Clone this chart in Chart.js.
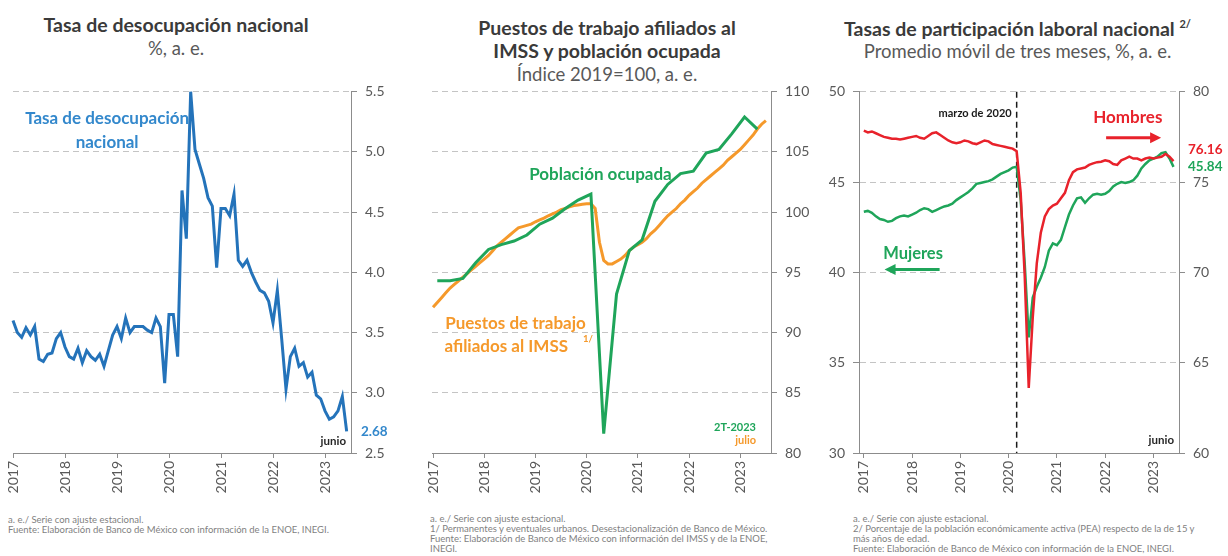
<!DOCTYPE html>
<html lang="es">
<head>
<meta charset="UTF-8">
<title>Mercado laboral</title>
<style>
    body {
        margin: 0;
        background: #fff;
        font-family: Lato, sans-serif;
    }
    #hoja {
        position: relative;
        width: 1228px;
        height: 556px;
        overflow: hidden;
    }
    .titulo {
        position: absolute;
        text-align: center;
        color: #3a3a3a;
        font-weight: bold;
        font-size: 19.5px;
        line-height: 23px;
        white-space: nowrap;
    }
    .titulo .sub {
        font-weight: normal;
        color: #595959;
        font-size: 18.5px;
    }
    .titulo sup {
        font-size: 11px;
    }
    canvas {
        position: absolute;
        top: 80px;
    }
    .nota {
        position: absolute;
        font-size: 9.5px;
        line-height: 10px;
        color: #7f7f7f;
        white-space: nowrap;
    }
</style>
</head>
<body>
<div id="hoja">
    <div class="titulo" style="left:0; width:352px; top:13px;">
        Tasa de desocupación nacional<br><span class="sub">%, a. e.</span>
    </div>
    <div class="titulo" style="left:410px; width:394px; top:16px;">
        Puestos de trabajo afiliados al<br>IMSS y población ocupada<br><span class="sub">Índice 2019=100, a. e.</span>
    </div>
    <div class="titulo" style="left:820px; width:395px; top:13px; line-height:22px;">
        Tasas de participación laboral nacional <sup>2/</sup><br><span class="sub">Promedio móvil de tres meses, %, a. e.</span>
    </div>

    <canvas id="grafDesocupacion" width="410" height="420" style="left:0;"></canvas>
    <canvas id="grafEmpleo" width="410" height="420" style="left:410px;"></canvas>
    <canvas id="grafParticipacion" width="408" height="420" style="left:820px;"></canvas>

    <div class="nota" style="left:8px; top:515px;">
        a. e./ Serie con ajuste estacional.<br>
        Fuente: Elaboración de Banco de México con información de la ENOE, INEGI.
    </div>
    <div class="nota" style="left:430px; top:514px;">
        a. e./ Serie con ajuste estacional.<br>
        1/ Permanentes y eventuales urbanos. Desestacionalización de Banco de México.<br>
        Fuente: Elaboración de Banco de México con información del IMSS y de la ENOE,<br>
        INEGI.
    </div>
    <div class="nota" style="left:853px; top:514px;">
        a. e./ Serie con ajuste estacional.<br>
        2/ Porcentaje de la población económicamente activa (PEA) respecto de la de 15 y<br>
        más años de edad.<br>
        Fuente: Elaboración de Banco de México con información de la ENOE, INEGI.
    </div>
</div>

<script src="https://cdn.jsdelivr.net/npm/chart.js"></script>
<script>
    // ---- datos ----
    const anios = [2017, 2018, 2019, 2020, 2021, 2022, 2023];

    // tasa de desocupación, mensual ene-2017 a jun-2023
    const desocupacion = [
        3.60, 3.50, 3.46, 3.54, 3.48, 3.55, 3.28, 3.26, 3.32, 3.33, 3.45, 3.50,
        3.38, 3.30, 3.28, 3.37, 3.25, 3.35, 3.30, 3.27, 3.32, 3.22, 3.35, 3.48,
        3.55, 3.45, 3.62, 3.50, 3.55, 3.55, 3.55, 3.52, 3.50, 3.62, 3.55, 3.08,
        3.65, 3.65, 3.30, 4.68, 4.28, 5.50, 5.02, 4.90, 4.78, 4.62, 4.55, 4.04,
        4.53, 4.53, 4.47, 4.65, 4.10, 4.05, 4.10, 4.00, 3.92, 3.85, 3.83, 3.76,
        3.58, 3.85, 3.45, 3.03, 3.30, 3.37, 3.22, 3.25, 3.13, 3.17, 2.98, 2.95,
        2.85, 2.78, 2.80, 2.85, 2.97, 2.68
    ];
    const ticksDesocupacion = [2.5, 3.0, 3.5, 4.0, 4.5, 5.0, 5.5];

    // puestos de trabajo IMSS, mensual ene-2017 a jul-2023
    const puestosImss = [
        92.1, 92.5, 92.9, 93.3, 93.7, 94.0, 94.3, 94.6, 94.9, 95.2, 95.5, 95.8,
        96.1, 96.4, 96.8, 97.2, 97.5, 97.8, 98.1, 98.4, 98.7, 98.8, 98.9, 99.0,
        99.2, 99.35, 99.5, 99.7, 99.85, 100.0, 100.2, 100.3, 100.45, 100.55, 100.6, 100.65,
        100.7, 100.7, 100.3, 97.5, 96.0, 95.7, 95.7, 95.9, 96.1, 96.4, 96.8, 97.1,
        97.3, 97.5, 97.8, 98.2, 98.5, 98.9, 99.3, 99.7, 100.0, 100.3, 100.7, 101.0,
        101.4, 101.7, 102.0, 102.4, 102.7, 103.0, 103.3, 103.6, 103.9, 104.3, 104.6, 104.9,
        105.2, 105.6, 106.0, 106.4, 106.9, 107.3, 107.6
    ];
    // población ocupada, trimestral 1T-2017 a 2T-2023
    const poblacionOcupada = [
        94.3, 94.3, 94.5, 95.8, 96.9, 97.3, 97.6, 98.1, 99.0, 99.5, 100.3, 101.0,
        101.5, 81.6, 93.2, 96.8, 97.7, 100.9, 102.3, 103.2, 103.4, 104.9, 105.2, 106.5,
        107.9, 106.9
    ];
    const ticksEmpleo = [80, 85, 90, 95, 100, 105, 110];

    // participación laboral, mensual ene-2017 a jun-2023
    const hombres = [
        77.85, 77.75, 77.8, 77.7, 77.6, 77.5, 77.45, 77.4, 77.4, 77.35, 77.4, 77.45,
        77.5, 77.55, 77.45, 77.4, 77.55, 77.7, 77.75, 77.6, 77.45, 77.3, 77.2, 77.15,
        77.2, 77.3, 77.25, 77.15, 77.1, 77.2, 77.3, 77.25, 77.1, 77.05, 77.0, 76.95,
        76.9, 76.85, 76.7, 74.4, 69.8, 63.6, 67.5, 70.5, 72.2, 73.1, 73.5, 73.7,
        73.8, 74.1, 74.4, 75.1, 75.55, 75.7, 75.75, 75.8, 75.95, 76.03, 76.1, 76.12,
        76.2, 76.15, 76.0, 75.95, 76.2, 76.3, 76.4, 76.3, 76.3, 76.2, 76.3, 76.35,
        76.3, 76.35, 76.4, 76.55, 76.4, 76.16
    ];
    const mujeres = [
        43.35, 43.4, 43.3, 43.1, 42.95, 42.9, 42.8, 42.85, 43.0, 43.1, 43.15, 43.1,
        43.2, 43.3, 43.45, 43.55, 43.5, 43.35, 43.45, 43.55, 43.65, 43.7, 43.8, 44.0,
        44.15, 44.3, 44.45, 44.65, 44.9, 44.95, 45.0, 45.05, 45.15, 45.3, 45.45, 45.55,
        45.65, 45.8, 45.85, 44.0, 40.5, 36.4, 38.6, 39.2, 39.7, 40.3, 41.2, 41.6,
        41.5, 41.8, 42.5, 43.2, 43.7, 44.1, 44.15, 43.85, 44.1, 44.3, 44.35, 44.3,
        44.35, 44.5, 44.75, 44.9, 45.0, 44.95, 45.0, 45.1, 45.35, 45.75, 46.0, 46.2,
        46.3, 46.4, 46.6, 46.65, 46.3, 45.84
    ];
    const ticksMujeres = [30, 35, 40, 45, 50];
    const ticksHombres = [60, 65, 70, 75, 80];
    const marzo2020 = 2020 + 2 / 12;

    // ---- estilos ----
    const azul = '#2473ba';
    const azulTexto = '#3388cc';
    const verde = '#1fa55a';
    const naranja = '#f5992b';
    const rojo = '#e8222b';
    const grisEje = '#8c8c8c';
    const grisRejilla = '#c4c4c4';
    const grisTexto = '#595959';
    const fuenteTicks = { family: 'Lato', size: 14 };

    const mensual = (serie) => serie.map((v, i) => ({ x: anios[0] + i / 12, y: v }));
    const trimestral = (serie) => serie.map((v, i) => ({ x: anios[0] + (3 * i + 1) / 12, y: v }));

    function ejeX(min, max) {
        return {
            type: 'linear',
            min: min,
            max: max,
            afterBuildTicks: s => { s.ticks = anios.map(v => ({ value: v })); },
            afterFit: s => { s.height = 47; },
            ticks: {
                autoSkip: false, maxRotation: 90, minRotation: 90, padding: 3,
                color: grisTexto, font: fuenteTicks, callback: v => String(v)
            },
            grid: { drawOnChartArea: false, color: grisEje, tickLength: 5 },
            border: { color: grisEje }
        };
    }

    function ejeY(posicion, valores, ancho, rejilla, decimales) {
        return {
            position: posicion,
            min: valores[0],
            max: valores[valores.length - 1],
            afterBuildTicks: s => { s.ticks = valores.map(v => ({ value: v })); },
            // ancho fijo y sin reservar espacio extra arriba/abajo para las etiquetas
            afterFit: s => { s.width = ancho; s.paddingTop = 0; s.paddingBottom = 0; },
            ticks: { color: grisTexto, font: fuenteTicks, padding: 8, callback: v => v.toFixed(decimales) },
            grid: { drawOnChartArea: rejilla, color: grisRejilla, tickColor: grisEje, tickLength: 6 },
            border: { color: grisEje, dash: [6, 4] }
        };
    }

    function linea(datos, color, ancho, eje) {
        return {
            data: datos, borderColor: color, borderWidth: ancho,
            pointRadius: 0, tension: 0, fill: false, yAxisID: eje || 'y', clip: false
        };
    }

    function escribir(ctx, texto, x, y, fuente, color, alineacion) {
        ctx.font = fuente;
        ctx.fillStyle = color;
        ctx.textAlign = alineacion;
        ctx.textBaseline = 'middle';
        ctx.fillText(texto, x, y);
    }

    function flecha(ctx, x1, x2, y, color) {
        const dir = Math.sign(x2 - x1);
        ctx.strokeStyle = color;
        ctx.fillStyle = color;
        ctx.lineWidth = 3;
        ctx.beginPath();
        ctx.moveTo(x1, y);
        ctx.lineTo(x2 - dir * 8, y);
        ctx.stroke();
        ctx.beginPath();
        ctx.moveTo(x2, y);
        ctx.lineTo(x2 - dir * 11, y - 5.5);
        ctx.lineTo(x2 - dir * 11, y + 5.5);
        ctx.closePath();
        ctx.fill();
    }

    function opcionesBase(padding, escalas) {
        return {
            responsive: false,
            animation: false,
            devicePixelRatio: 1,
            layout: { padding: padding },
            plugins: { legend: { display: false }, tooltip: { enabled: false } },
            scales: escalas
        };
    }

    // ---- notas dentro de las gráficas ----
    const notasDesocupacion = {
        id: 'notasDesocupacion',
        afterDatasetsDraw(chart) {
            const { ctx, chartArea, scales: { x, y } } = chart;
            const ultimo = desocupacion[desocupacion.length - 1];
            ctx.save();
            escribir(ctx, 'Tasa de desocupación', x.getPixelForValue(2018.81), y.getPixelForValue(5.28), 'bold 17px Lato', azulTexto, 'center');
            escribir(ctx, 'nacional', x.getPixelForValue(2018.81), y.getPixelForValue(5.08), 'bold 17px Lato', azulTexto, 'center');
            escribir(ctx, 'junio', chartArea.right - 5, y.getPixelForValue(2.6), 'bold 11.5px Lato', '#262626', 'right');
            escribir(ctx, ultimo.toFixed(2), chartArea.right + 10, y.getPixelForValue(ultimo), 'bold 13.5px Lato', azulTexto, 'left');
            ctx.restore();
        }
    };

    const notasEmpleo = {
        id: 'notasEmpleo',
        afterDatasetsDraw(chart) {
            const { ctx, chartArea, scales: { x, y } } = chart;
            ctx.save();
            escribir(ctx, 'Población ocupada', x.getPixelForValue(2020.27), y.getPixelForValue(103.16), 'bold 17px Lato', verde, 'center');
            escribir(ctx, 'Puestos de trabajo', x.getPixelForValue(2018.61), y.getPixelForValue(90.75), 'bold 17px Lato', naranja, 'center');
            escribir(ctx, 'afiliados al IMSS', x.getPixelForValue(2018.43), y.getPixelForValue(88.86), 'bold 17px Lato', naranja, 'center');
            escribir(ctx, '1/', x.getPixelForValue(2019.93), y.getPixelForValue(89.5), 'bold 9.5px Lato', naranja, 'left');
            escribir(ctx, '2T-2023', chartArea.right - 15, y.getPixelForValue(82.15), 'bold 11px Lato', verde, 'right');
            escribir(ctx, 'julio', chartArea.right - 15, y.getPixelForValue(81.05), 'bold 11px Lato', naranja, 'right');
            ctx.restore();
        }
    };

    const notasParticipacion = {
        id: 'notasParticipacion',
        beforeDatasetsDraw(chart) {
            const { ctx, chartArea, scales: { x } } = chart;
            const xm = x.getPixelForValue(marzo2020);
            ctx.save();
            ctx.strokeStyle = '#1a1a1a';
            ctx.lineWidth = 1.5;
            ctx.setLineDash([6, 4]);
            ctx.beginPath();
            ctx.moveTo(xm, chartArea.top);
            ctx.lineTo(xm, chartArea.bottom);
            ctx.stroke();
            ctx.restore();
        },
        afterDatasetsDraw(chart) {
            const { ctx, chartArea, scales: { x, y, y1 } } = chart;
            const h = hombres[hombres.length - 1];
            const m = mujeres[mujeres.length - 1];
            ctx.save();
            escribir(ctx, 'marzo de 2020', x.getPixelForValue(marzo2020) - 5, y.getPixelForValue(48.8), 'bold 11px Lato', '#1a1a1a', 'right');
            escribir(ctx, 'Hombres', x.getPixelForValue(2022.47), y.getPixelForValue(48.58), 'bold 17px Lato', rojo, 'center');
            flecha(ctx, x.getPixelForValue(2022.02), x.getPixelForValue(2023.16), y.getPixelForValue(47.45), rojo);
            escribir(ctx, 'Mujeres', x.getPixelForValue(2018.02), y.getPixelForValue(41.05), 'bold 16.5px Lato', verde, 'center');
            flecha(ctx, x.getPixelForValue(2018.57), x.getPixelForValue(2017.43), y.getPixelForValue(40.16), verde);
            escribir(ctx, h.toFixed(2), chartArea.right + 9, y1.getPixelForValue(h) - 11, 'bold 13.5px Lato', rojo, 'left');
            escribir(ctx, m.toFixed(2), chartArea.right + 9, y.getPixelForValue(m), 'bold 13.5px Lato', verde, 'left');
            escribir(ctx, 'junio', chartArea.right - 5, y.getPixelForValue(30.7), 'bold 11.5px Lato', '#262626', 'right');
            ctx.restore();
        }
    };

    // ---- gráficas ----
    new Chart(document.getElementById('grafDesocupacion'), {
        type: 'line',
        data: { datasets: [linea(mensual(desocupacion), azul, 3)] },
        options: opcionesBase({ left: 13, top: 11.7 }, {
            x: ejeX(2017, 2023.5),
            y: ejeY('right', ticksDesocupacion, 59, true, 1)
        }),
        plugins: [notasDesocupacion]
    });

    new Chart(document.getElementById('grafEmpleo'), {
        type: 'line',
        data: {
            datasets: [
                linea(trimestral(poblacionOcupada), verde, 3),
                linea(mensual(puestosImss), naranja, 3)
            ]
        },
        options: opcionesBase({ left: 22, top: 11.7 }, {
            x: ejeX(2016.98, 2023.6),
            y: ejeY('right', ticksEmpleo, 49, true, 0)
        }),
        plugins: [notasEmpleo]
    });

    new Chart(document.getElementById('grafParticipacion'), {
        type: 'line',
        data: {
            datasets: [
                linea(mensual(hombres), rojo, 2.5, 'y1'),
                linea(mensual(mujeres), verde, 2.5, 'y')
            ]
        },
        options: opcionesBase({ top: 11.7 }, {
            x: ejeX(2016.9, 2023.53),
            y: ejeY('left', ticksMujeres, 39, true, 0),
            y1: ejeY('right', ticksHombres, 49, false, 0)
        }),
        plugins: [notasParticipacion]
    });
</script>
</body>
</html>
